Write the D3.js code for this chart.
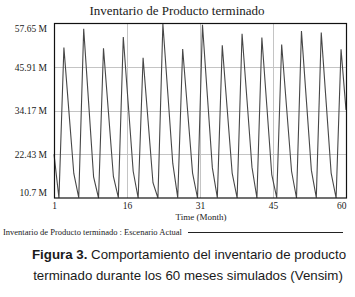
<!DOCTYPE html>
<html>
<head>
<meta charset="utf-8">
<script src="https://cdn.jsdelivr.net/npm/d3@7"></script>
<style>
  body { margin: 0; background: #fff; }
  svg text { fill: #1a1a1a; }
</style>
</head>
<body>
<div id="chart"></div>
<script>
// Datos (millones de unidades por mes)
const meses = d3.range(1, 61);
const inventario = [
  22.5, 10.7, 51.2, 34.2, 17.3, 10.8, 56.2, 36.3, 16.4, 10.7,
  51.0, 33.8, 16.5, 10.8, 54.0, 36.0, 17.9, 10.7, 48.4, 31.6,
  14.8, 10.7, 57.6, 38.8, 20.0, 10.8, 50.8, 34.1, 17.4, 10.7,
  57.3, 38.0, 18.8, 10.8, 51.8, 34.6, 17.4, 10.7, 54.9, 37.0,
  19.0, 10.7, 53.9, 35.5, 17.0, 10.8, 52.0, 35.0, 17.9, 10.7,
  55.6, 36.9, 18.2, 10.8, 55.2, 36.3, 17.4, 10.7, 50.7, 34.4
];
const yTicks = [10.7, 22.43, 34.17, 45.91, 57.65];
const yTickLabels = ["10.7 M", "22.43 M", "34.17 M", "45.91 M", "57.65 M"];
const xTickLabels = ["1", "16", "31", "45", "60"];

const W = 355, H = 297;
const plot = { left: 54, right: 346, top: 23.5, bottom: 198 };

const svg = d3.select("#chart").append("svg")
    .attr("width", W)
    .attr("height", H);

const x = d3.scaleLinear().domain([1, 60]).range([plot.left, plot.right]);
const y = d3.scaleLinear().domain([10.7, 57.65]).range([plot.bottom, plot.top]);

// posiciones de la rejilla vertical: el eje dividido en cuartos
const xTicks = d3.range(5).map(i => 1 + i * 59 / 4);

// rejilla
svg.append("g")
    .selectAll("line.h")
    .data(yTicks.slice(1, -1))
    .enter().append("line")
    .attr("x1", plot.left).attr("x2", plot.right)
    .attr("y1", d => Math.round(y(d)) + 0.5).attr("y2", d => Math.round(y(d)) + 0.5)
    .attr("stroke", "#c4c4c4").attr("stroke-width", 1);

svg.append("g")
    .selectAll("line.v")
    .data(xTicks.slice(1, -1))
    .enter().append("line")
    .attr("x1", d => Math.round(x(d)) + 0.5).attr("x2", d => Math.round(x(d)) + 0.5)
    .attr("y1", plot.top).attr("y2", plot.bottom)
    .attr("stroke", "#c4c4c4").attr("stroke-width", 1);

// serie
const line = d3.line()
    .x((d, i) => x(meses[i]))
    .y(d => y(d));

svg.append("path")
    .datum(inventario)
    .attr("d", line)
    .attr("fill", "none")
    .attr("stroke", "#474747")
    .attr("stroke-width", 1.1)
    .attr("stroke-linejoin", "miter");

// marco
svg.append("rect")
    .attr("x", plot.left + 0.5).attr("y", plot.top)
    .attr("width", plot.right - plot.left)
    .attr("height", plot.bottom - plot.top)
    .attr("fill", "none")
    .attr("stroke", "#111")
    .attr("stroke-width", 1.2);

// eje Y
const yAxis = svg.append("g")
    .attr("transform", `translate(${plot.left},0)`)
    .call(d3.axisLeft(y)
        .tickValues(yTicks)
        .tickSize(0)
        .tickPadding(7)
        .tickFormat((d, i) => yTickLabels[i]));
yAxis.select(".domain").remove();
yAxis.selectAll("text")
    .style("font-family", "'Liberation Serif', 'Times New Roman', serif")
    .style("font-size", "9.5px")
    .attr("dy", (d, i) => i === 0 ? "-0.3em" : (i === yTicks.length - 1 ? "0.85em" : "0.32em"));

// eje X
const xAxis = svg.append("g")
    .attr("transform", `translate(0,${plot.bottom})`)
    .call(d3.axisBottom(x)
        .tickValues(xTicks)
        .tickSize(0)
        .tickPadding(4)
        .tickFormat((d, i) => xTickLabels[i]));
xAxis.select(".domain").remove();
xAxis.selectAll("text")
    .style("font-family", "'Liberation Serif', 'Times New Roman', serif")
    .style("font-size", "9.5px")
    .attr("text-anchor", (d, i) => i === xTicks.length - 1 ? "end" : "middle");

// título
svg.append("text")
    .attr("x", 177)
    .attr("y", 15)
    .attr("text-anchor", "middle")
    .style("font-family", "'Liberation Serif', 'Times New Roman', serif")
    .style("font-size", "13px")
    .text("Inventario de Producto terminado");

svg.append("text")
    .attr("x", 201)
    .attr("y", 220)
    .attr("text-anchor", "middle")
    .style("font-family", "'Liberation Serif', 'Times New Roman', serif")
    .style("font-size", "9px")
    .text("Time (Month)");

// leyenda
svg.append("text")
    .attr("x", 3)
    .attr("y", 235)
    .style("font-family", "'Liberation Serif', 'Times New Roman', serif")
    .style("font-size", "8.5px")
    .text("Inventario de Producto terminado : Escenario Actual");

svg.append("line")
    .attr("x1", 188).attr("x2", 343)
    .attr("y1", 232.5).attr("y2", 232.5)
    .attr("stroke", "#222").attr("stroke-width", 1);

// pie de figura
const cap = svg.append("text")
    .attr("x", 189)
    .attr("y", 259)
    .attr("text-anchor", "middle")
    .style("font-family", "'Liberation Sans', Arial, sans-serif")
    .style("font-size", "13.3px");
cap.append("tspan").style("font-weight", "bold").text("Figura 3.");
cap.append("tspan").text(" Comportamiento del inventario de producto");

svg.append("text")
    .attr("x", 188)
    .attr("y", 280)
    .attr("text-anchor", "middle")
    .style("font-family", "'Liberation Sans', Arial, sans-serif")
    .style("font-size", "13.3px")
    .text("terminado durante los 60 meses simulados (Vensim)");
</script>
</body>
</html>
